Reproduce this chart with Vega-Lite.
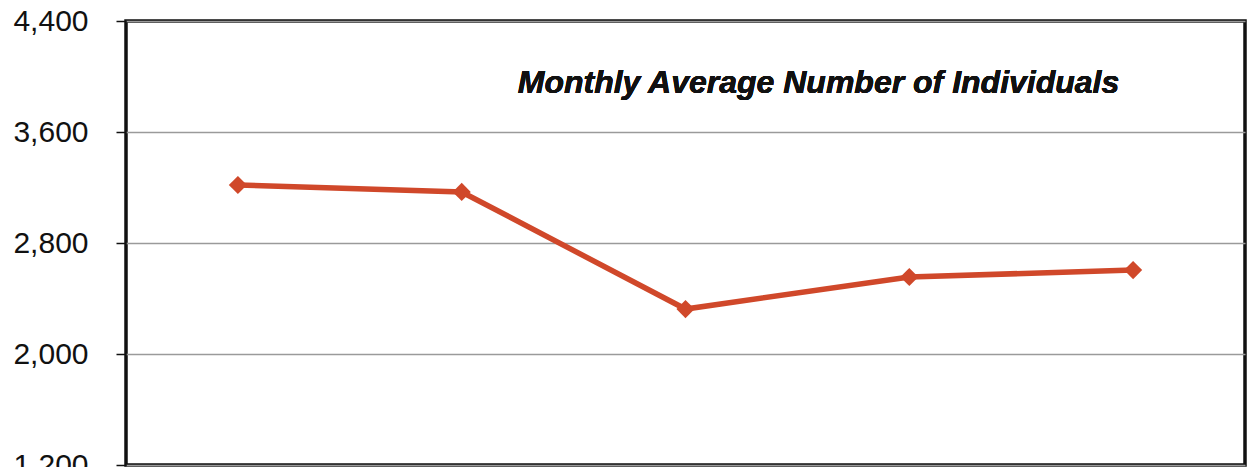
{
  "$schema": "https://vega.github.io/schema/vega-lite/v6.json",
  "width": 1119,
  "height": 444,
  "autosize": {"type": "none"},
  "padding": {"left": 126, "top": 21, "right": 3, "bottom": 2},
  "background": "#ffffff",
  "config": {
    "view": {"stroke": "#111111", "strokeWidth": 3.5},
    "font": "Liberation Sans"
  },
  "data": {
    "values": [
      {"period": "1", "value": 3218},
      {"period": "2", "value": 3168},
      {"period": "3", "value": 2324},
      {"period": "4", "value": 2555},
      {"period": "5", "value": 2605}
    ]
  },
  "layer": [
    {
      "mark": {"type": "line", "color": "#D0482A", "strokeWidth": 5.5},
      "encoding": {
        "x": {"field": "period", "type": "ordinal", "scale": {"type": "point", "padding": 0.5}, "axis": null},
        "y": {
          "field": "value", "type": "quantitative",
          "scale": {"domain": [1200, 4400], "nice": false, "zero": false},
          "axis": {
            "title": null,
            "values": [1200, 2000, 2800, 3600, 4400],
            "format": ",.0f",
            "domain": false,
            "grid": true,
            "gridColor": "#9a9a9a",
            "gridWidth": 1.5,
            "tickColor": "#111111",
            "tickSize": 10,
            "tickWidth": 1.5,
            "labelFontSize": 30,
            "labelColor": "#111111",
            "labelPadding": 28,
            "labelFont": "Liberation Sans"
          }
        }
      }
    },
    {
      "mark": {"type": "point", "shape": "diamond", "filled": true, "size": 330, "color": "#D0482A", "opacity": 1},
      "encoding": {
        "x": {"field": "period", "type": "ordinal"},
        "y": {"field": "value", "type": "quantitative"}
      }
    },
    {
      "mark": {"type": "text", "text": "Monthly Average Number of Individuals", "fontSize": 32, "fontWeight": "bold", "fontStyle": "italic", "font": "Liberation Sans", "color": "#111111", "baseline": "middle", "align": "center", "dx": 133},
      "encoding": {
        "x": {"datum": "3", "type": "ordinal"},
        "y": {"datum": 3953, "type": "quantitative"}
      }
    }
  ]
}
